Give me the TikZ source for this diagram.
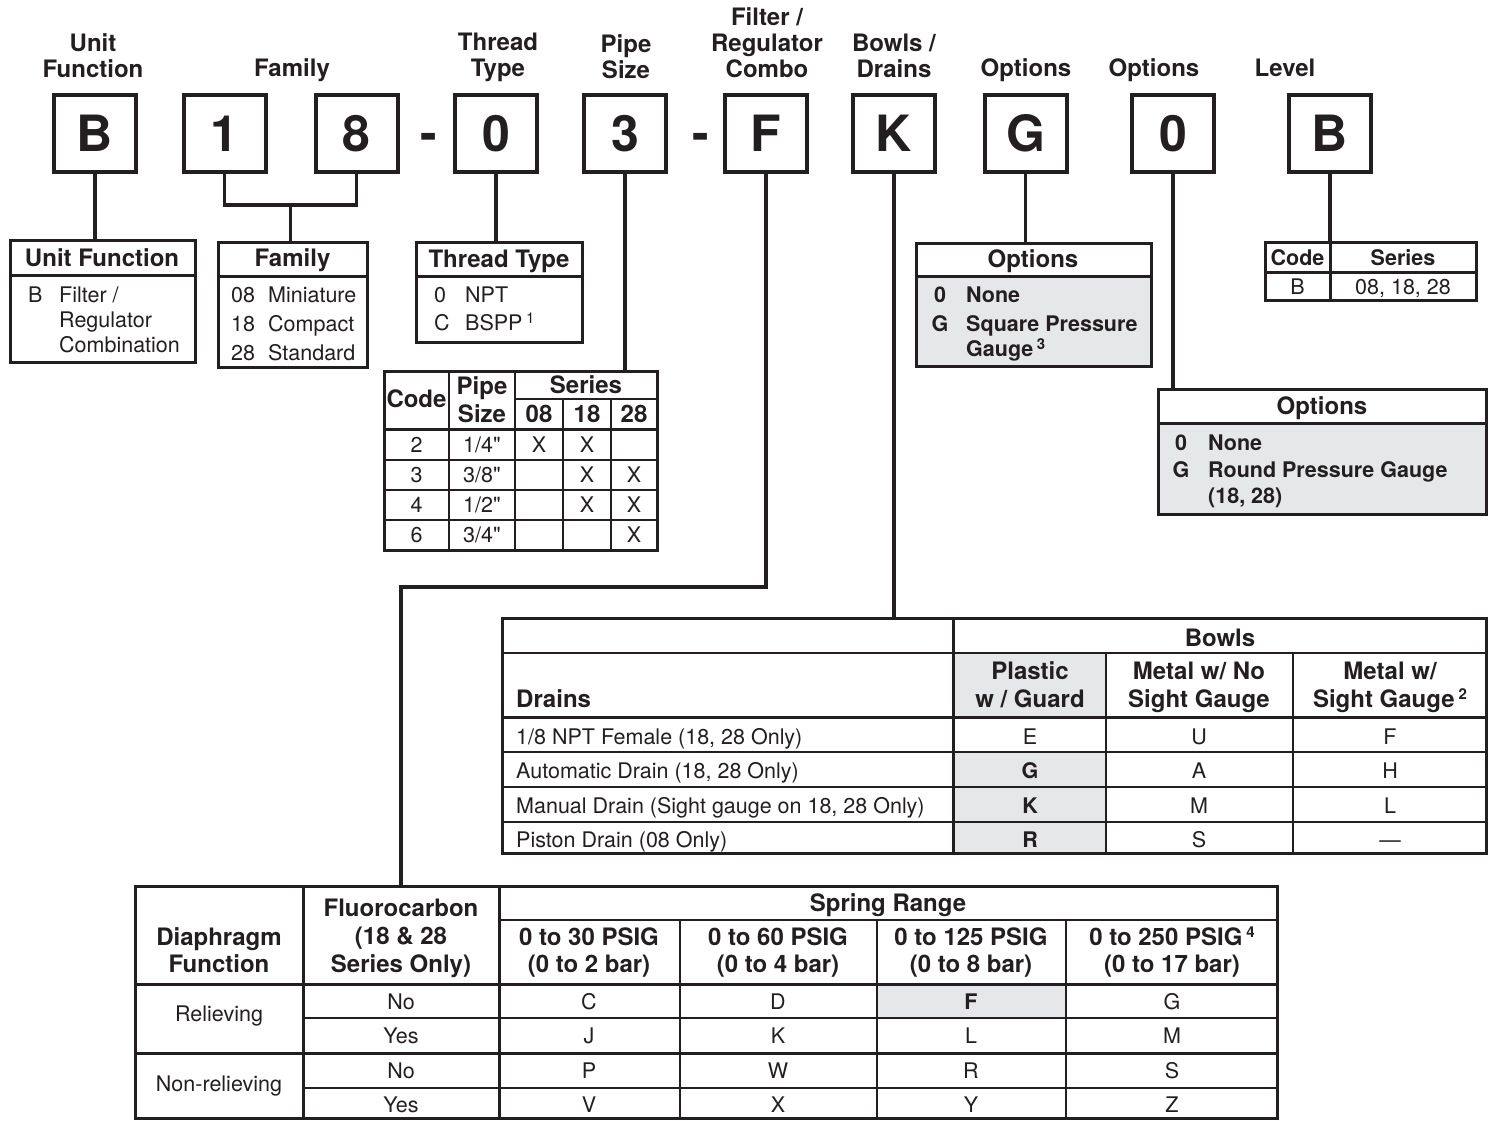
\documentclass[tikz,border=0pt]{standalone}
\usepackage{fontspec}
\setmainfont{TeX Gyre Heros}
\usetikzlibrary{fit}
\definecolor{ink}{HTML}{231F20}
\definecolor{cellgray}{HTML}{E6E7E8}
\newcommand\supnum[1]{\,\raisebox{0.3em}{\fontsize{15}{15}\selectfont #1}}
\tikzset{
  codebox/.style={draw=ink, line width=4pt, inner sep=0pt, minimum width=82pt, minimum height=77pt, font=\fontsize{50}{50}\selectfont\bfseries, text=ink},
  dashmark/.style={inner sep=0pt, font=\fontsize{50}{50}\selectfont\bfseries, text=ink, anchor=base},
  toplbl/.style={inner sep=0pt, align=center, font=\fontsize{24}{26}\selectfont\bfseries, text=ink},
  conn/.style={draw=ink, line width=3.5pt},
  panel/.style={draw=ink, line width=3pt, inner sep=0pt},
  rulea/.style={draw=ink, line width=3pt},
  ruleb/.style={draw=ink, line width=2.2pt},
  rulec/.style={draw=ink, line width=1.3pt},
  hd/.style={inner sep=0pt, font=\fontsize{24}{28}\selectfont\bfseries, text=ink, anchor=base},
  bd/.style={inner sep=0pt, font=\fontsize{21.5}{25}\selectfont, text=ink, anchor=base},
  bdb/.style={inner sep=0pt, font=\fontsize{21.5}{25}\selectfont\bfseries, text=ink, anchor=base},
}
\begin{document}
\begin{tikzpicture}[x=1pt,y=-1pt]
\useasboundingbox (0,0) rectangle (1489,1120);
\fill[white] (0,0) rectangle (1489,1120);

% ---------- top labels ----------
\node[toplbl] (hU) at (93,55.5) {Unit\\Function};
\node[toplbl, anchor=base] (hF) at (292,76) {Family};
\node[toplbl] (hT) at (498,57) {Thread\\Type};
\node[toplbl] (hP) at (626,57) {Pipe\\Size};
\node[toplbl] (hR) at (767,43) {Filter /\\Regulator\\Combo};
\node[toplbl] (hB) at (894,55.5) {Bowls /\\Drains};
\node[toplbl, anchor=base] (hO) at (1026,76) {Options};
\node[toplbl, anchor=base] (hQ) at (1154,76) {Options};
\node[toplbl, anchor=base] (hL) at (1285,76) {Level};

% ---------- code boxes ----------
\node[codebox] (cU) at (95,133.5) {B};
\node[codebox] (cA) at (224.5,133.5) {1};
\node[codebox] (cB) at (356.5,133.5) {8};
\node[dashmark] (d1) at (429,150) {-};
\node[codebox] (cT) at (496,133.5) {0};
\node[codebox] (cP) at (625,133.5) {3};
\node[dashmark] (d2) at (701,150) {-};
\node[codebox] (cF) at (766,133.5) {F};
\node[codebox] (cK) at (894,133.5) {K};
\node[codebox] (cG) at (1025.5,133.5) {G};
\node[codebox] (cO) at (1173,133.5) {0};
\node[codebox] (cL) at (1330,133.5) {B};

% ---------- Unit Function ----------
\node[panel, fit={(10,240) (195,362)}] (uf) {};
\draw[rulea] (10,275) -- (195,275);
\node[hd] (ufh) at (102,266) {Unit Function};
\node[bd, anchor=base west] (uf1) at (28,302) {B};
\node[bd, anchor=base west] (uf2) at (59,302) {Filter /};
\node[bd, anchor=base west] (uf3) at (59,327) {Regulator};
\node[bd, anchor=base west] (uf4) at (59,352) {Combination};

% ---------- Family ----------
\node[panel, fit={(218,242) (367,367)}] (fam) {};
\draw[rulea] (218,276) -- (367,276);
\node[hd] (famh) at (292.5,266) {Family};
\node[bd, anchor=base west] (fa1) at (231,302) {08};
\node[bd, anchor=base west] (fa2) at (268,302) {Miniature};
\node[bd, anchor=base west] (fa3) at (231,331) {18};
\node[bd, anchor=base west] (fa4) at (268,331) {Compact};
\node[bd, anchor=base west] (fa5) at (231,360) {28};
\node[bd, anchor=base west] (fa6) at (268,360) {Standard};

% ---------- Thread Type ----------
\node[panel, fit={(416,242) (582,342)}] (tt) {};
\draw[rulea] (416,276) -- (582,276);
\node[hd] (tth) at (499,267) {Thread Type};
\node[bd, anchor=base west] (tt1) at (434,302) {0};
\node[bd, anchor=base west] (tt2) at (465,302) {NPT};
\node[bd, anchor=base west] (tt3) at (434,330) {C};
\node[bd, anchor=base west] (tt4) at (465,330) {BSPP\supnum{1}};

% ---------- Pipe size table ----------
\node[panel, fit={(384,371) (657,550)}] (pipe) {};
\draw[ruleb] (515,399) -- (657,399);
\draw[rulea] (384,429) -- (657,429);
\draw[rulec] (384,460) -- (657,460);
\draw[rulec] (384,490) -- (657,490);
\draw[rulec] (384,520) -- (657,520);
\draw[ruleb] (449,371) -- (449,550);
\draw[ruleb] (515,371) -- (515,550);
\draw[ruleb] (563,399) -- (563,550);
\draw[ruleb] (611,399) -- (611,550);
\node[hd] (ph1) at (416.5,407) {Code};
\node[hd] (ph2) at (482,394) {Pipe};
\node[hd] (ph3) at (482,422) {Size};
\node[hd] (ph4) at (586,393) {Series};
\node[hd] (ph5) at (539,422) {08};
\node[hd] (ph6) at (587,422) {18};
\node[hd] (ph7) at (634,422) {28};
\node[bd] (p11) at (416.5,452) {2};
\node[bd] (p12) at (482,452) {1/4\textquotedbl};
\node[bd] (p13) at (539,452) {X};
\node[bd] (p14) at (587,452) {X};
\node[bd] (p21) at (416.5,482) {3};
\node[bd] (p22) at (482,482) {3/8\textquotedbl};
\node[bd] (p24) at (587,482) {X};
\node[bd] (p25) at (634,482) {X};
\node[bd] (p31) at (416.5,512) {4};
\node[bd] (p32) at (482,512) {1/2\textquotedbl};
\node[bd] (p34) at (587,512) {X};
\node[bd] (p35) at (634,512) {X};
\node[bd] (p41) at (416.5,542) {6};
\node[bd] (p42) at (482,542) {3/4\textquotedbl};
\node[bd] (p45) at (634,542) {X};

% ---------- Options 1 ----------
\fill[cellgray] (916,276) rectangle (1151,366);
\node[panel, fit={(916,243) (1151,366)}] (op1) {};
\draw[rulea] (916,276) -- (1151,276);
\node[hd] (op1h) at (1033,267) {Options};
\node[bdb] (op1a) at (940,302) {0};
\node[bdb, anchor=base west] (op1b) at (966,302) {None};
\node[bdb] (op1c) at (940,331) {G};
\node[bdb, anchor=base west] (op1d) at (966,331) {Square Pressure};
\node[bdb, anchor=base west] (op1e) at (966,356) {Gauge\supnum{3}};

% ---------- Level table ----------
\node[panel, fit={(1265,242) (1476,300)}] (lvl) {};
\draw[rulea] (1265,272) -- (1476,272);
\draw[rulea] (1330,242) -- (1330,300);
\node[bdb] (lv1) at (1297.5,265) {Code};
\node[bdb] (lv2) at (1403,265) {Series};
\node[bd] (lv3) at (1297.5,294) {B};
\node[bd] (lv4) at (1403,294) {08, 18, 28};

% ---------- Options 2 ----------
\fill[cellgray] (1158,423) rectangle (1486,514);
\node[panel, fit={(1158,389) (1486,514)}] (op2) {};
\draw[rulea] (1158,423) -- (1486,423);
\node[hd] (op2h) at (1322,414) {Options};
\node[bdb] (op2a) at (1181,450) {0};
\node[bdb, anchor=base west] (op2b) at (1208,450) {None};
\node[bdb] (op2c) at (1181,477) {G};
\node[bdb, anchor=base west] (op2d) at (1208,477) {Round Pressure Gauge};
\node[bdb, anchor=base west] (op2e) at (1208,503) {(18, 28)};

% ---------- Bowls / Drains table ----------
\fill[cellgray] (953,653) rectangle (1106,717);
\fill[cellgray] (953,752) rectangle (1106,853);
\node[panel, fit={(502,618) (1486,853)}] (bowl) {};
\draw[ruleb] (502,653) -- (1486,653);
\draw[rulea] (502,717) -- (1486,717);
\draw[rulec] (502,752) -- (1486,752);
\draw[rulec] (502,787) -- (1486,787);
\draw[rulec] (502,822) -- (1486,822);
\draw[rulea] (953,618) -- (953,853);
\draw[ruleb] (1106,653) -- (1106,853);
\draw[ruleb] (1293,653) -- (1293,853);
\node[hd] (bw0) at (1220,646) {Bowls};
\node[hd, anchor=base west] (bw1) at (516,707) {Drains};
\node[hd] (bw2) at (1030,679) {Plastic};
\node[hd] (bw3) at (1030,707) {w / Guard};
\node[hd] (bw4) at (1199,679) {Metal w/ No};
\node[hd] (bw5) at (1199,707) {Sight Gauge};
\node[hd] (bw6) at (1390,679) {Metal w/};
\node[hd] (bw7) at (1390,707) {Sight Gauge\supnum{2}};
\node[bd, anchor=base west] (dr1) at (516,744) {1/8 NPT Female (18, 28 Only)};
\node[bd, anchor=base west] (dr2) at (516,778) {Automatic Drain (18, 28 Only)};
\node[bd, anchor=base west] (dr3) at (516,813) {Manual Drain (Sight gauge on 18, 28 Only)};
\node[bd, anchor=base west] (dr4) at (516,847) {Piston Drain (08 Only)};
\node[bd] (b11) at (1030,744) {E};
\node[bd] (b12) at (1199,744) {U};
\node[bd] (b13) at (1390,744) {F};
\node[bdb] (b21) at (1030,778) {G};
\node[bd] (b22) at (1199,778) {A};
\node[bd] (b23) at (1390,778) {H};
\node[bdb] (b31) at (1030,813) {K};
\node[bd] (b32) at (1199,813) {M};
\node[bd] (b33) at (1390,813) {L};
\node[bdb] (b41) at (1030,847) {R};
\node[bd] (b42) at (1199,847) {S};
\node[bd] (b43) at (1390,847) {\textemdash};

% ---------- Spring range table ----------
\fill[cellgray] (877,984) rectangle (1066,1018);
\node[panel, fit={(135,886) (1277,1118)}] (spring) {};
\draw[ruleb] (499,920) -- (1277,920);
\draw[rulea] (135,984) -- (1277,984);
\draw[rulec] (303,1018) -- (1277,1018);
\draw[rulea] (135,1053) -- (1277,1053);
\draw[rulec] (303,1088) -- (1277,1088);
\draw[rulea] (303,886) -- (303,1118);
\draw[rulea] (499,886) -- (499,1118);
\draw[ruleb] (680,920) -- (680,1118);
\draw[ruleb] (877,920) -- (877,1118);
\draw[ruleb] (1066,920) -- (1066,1118);
\node[hd] (sh1) at (219,945) {Diaphragm};
\node[hd] (sh2) at (219,972) {Function};
\node[hd] (sh3) at (401,916) {Fluorocarbon};
\node[hd] (sh4) at (401,944) {(18 \& 28};
\node[hd] (sh5) at (401,972) {Series Only)};
\node[hd] (sh6) at (888,911) {Spring Range};
\node[hd] (sh7) at (589,945) {0 to 30 PSIG};
\node[hd] (sh8) at (589,972) {(0 to 2 bar)};
\node[hd] (sh9) at (778,945) {0 to 60 PSIG};
\node[hd] (sh10) at (778,972) {(0 to 4 bar)};
\node[hd] (sh11) at (971,945) {0 to 125 PSIG};
\node[hd] (sh12) at (971,972) {(0 to 8 bar)};
\node[hd] (sh13) at (1172,945) {0 to 250 PSIG\supnum{4}};
\node[hd] (sh14) at (1172,972) {(0 to 17 bar)};
\node[bd] (sr1) at (219,1021) {Relieving};
\node[bd] (sr2) at (219,1091) {Non-relieving};
\node[bd] (sf1) at (401,1009) {No};
\node[bd] (sf2) at (401,1043) {Yes};
\node[bd] (sf3) at (401,1078) {No};
\node[bd] (sf4) at (401,1112) {Yes};
\node[bd] (s11) at (589,1009) {C};
\node[bd] (s12) at (778,1009) {D};
\node[bdb] (s13) at (971,1009) {F};
\node[bd] (s14) at (1172,1009) {G};
\node[bd] (s21) at (589,1043) {J};
\node[bd] (s22) at (778,1043) {K};
\node[bd] (s23) at (971,1043) {L};
\node[bd] (s24) at (1172,1043) {M};
\node[bd] (s31) at (589,1078) {P};
\node[bd] (s32) at (778,1078) {W};
\node[bd] (s33) at (971,1078) {R};
\node[bd] (s34) at (1172,1078) {S};
\node[bd] (s41) at (589,1112) {V};
\node[bd] (s42) at (778,1112) {X};
\node[bd] (s43) at (971,1112) {Y};
\node[bd] (s44) at (1172,1112) {Z};

% ---------- connectors ----------
\draw[conn] (cU.south) -- (cU.south |- uf.north);
\coordinate (fj) at (290.5,205);
\draw[conn] (cA.south) |- (fj) -| (cB.south);
\draw[conn] (fj) -- (fj |- fam.north);
\draw[conn] (cT.south) -- (cT.south |- tt.north);
\draw[conn] (cP.south) -- (cP.south |- pipe.north);
\coordinate (sbend) at (401,587);
\draw[conn] (cF.south) |- (sbend) -- (sbend |- spring.north);
\draw[conn] (cK.south) -- (cK.south |- bowl.north);
\draw[conn] (cG.south) -- (cG.south |- op1.north);
\draw[conn] (cO.south) -- (cO.south |- op2.north);
\draw[conn] (cL.south) -- (cL.south |- lvl.north);
\end{tikzpicture}
\end{document}
